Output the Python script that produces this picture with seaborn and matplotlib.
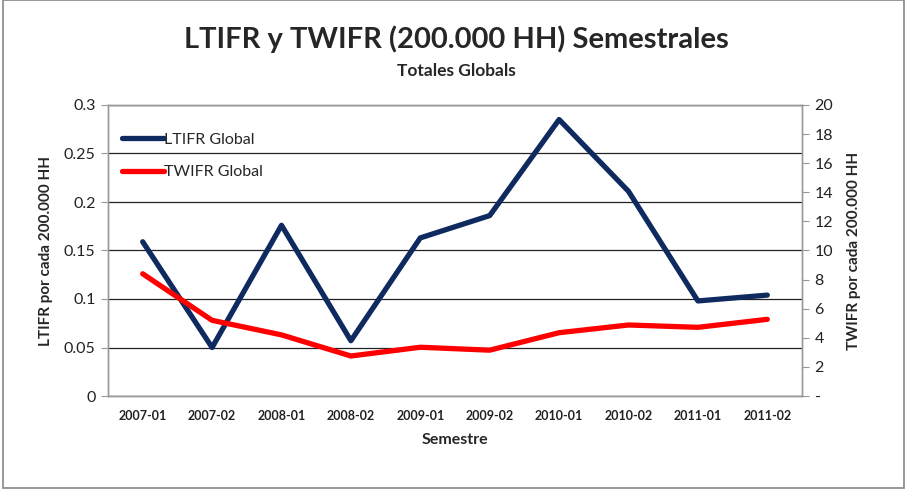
import numpy as np
import pandas as pd
import matplotlib
matplotlib.use('Agg')
import matplotlib.pyplot as plt
import seaborn as sns
from matplotlib.ticker import FixedLocator

semestres = ['2007-01', '2007-02', '2008-01', '2008-02', '2009-01',
             '2009-02', '2010-01', '2010-02', '2011-01', '2011-02']
ltifr = [0.159, 0.050, 0.176, 0.057, 0.163, 0.186, 0.285, 0.211, 0.098, 0.104]
twifr = [8.4, 5.2, 4.2, 2.75, 3.35, 3.15, 4.35, 4.88, 4.72, 5.27]

left_ticks = [0, 0.05, 0.1, 0.15, 0.2, 0.25, 0.3]
right_ticks = list(range(0, 21, 2))

navy = '#0E2A5E'
red = '#FF0000'

sns.set_style('white')
plt.rcParams['font.family'] = ['Lato', 'DejaVu Sans']

df = pd.DataFrame({'pos': np.arange(len(semestres)), 'semestre': semestres,
                   'LTIFR': ltifr, 'TWIFR': twifr})

fig = plt.figure(figsize=(9.07, 4.9), dpi=100)
ax = fig.add_axes([108 / 907, 1 - 396 / 490, 694 / 907, 291 / 490])
ax2 = ax.twinx()

sns.lineplot(data=df, x='pos', y='LTIFR', ax=ax, color=navy, linewidth=3.8,
             label='LTIFR Global', legend=False)
sns.lineplot(data=df, x='pos', y='TWIFR', ax=ax2, color=red, linewidth=3.8,
             label='TWIFR Global', legend=False)

ax.set_xlim(-0.5, len(semestres) - 0.5)
ax.set_ylim(0, 0.3)
ax2.set_ylim(0, 20)

ax.set_yticks(left_ticks)
ax.set_yticklabels(['0', '0.05', '0.1', '0.15', '0.2', '0.25', '0.3'], fontsize=11.5, color='#222222')
ax2.set_yticks(right_ticks)
ax2.set_yticklabels(['-' if t == 0 else str(t) for t in right_ticks], fontsize=11.5, color='#222222')

ax.set_xticks(np.arange(len(semestres)))
ax.set_xticklabels(semestres, fontsize=9, fontweight='bold', color='#222222')
ax.xaxis.set_minor_locator(FixedLocator(np.arange(-0.5, len(semestres), 1)))
ax.tick_params(axis='x', which='major', length=0, pad=10)
ax.tick_params(axis='x', which='minor', length=5, color='#999999', direction='out')
ax.tick_params(axis='y', length=5, color='#999999', direction='out', left=True, pad=4)
ax2.tick_params(axis='y', length=5, color='#999999', direction='out', right=True, pad=4)

ax.grid(axis='y', color='#222222', linewidth=0.9)
ax.grid(axis='x', visible=False)
ax2.grid(False)
ax.set_axisbelow(True)

for a in (ax, ax2):
    for s in a.spines.values():
        s.set_color('#999999')
        s.set_linewidth(1.0)

ax.set_xlabel('Semestre', fontsize=11.5, fontweight='bold', labelpad=8)
ax.set_ylabel('LTIFR por cada 200.000 HH', fontsize=11, fontweight='bold', labelpad=8)
ax2.set_ylabel('TWIFR por cada 200.000 HH', fontsize=11, fontweight='bold', labelpad=10)

h1, l1 = ax.get_legend_handles_labels()
h2, l2 = ax2.get_legend_handles_labels()
leg = ax.legend(h1 + h2, l1 + l2, loc='upper left', bbox_to_anchor=(0.0, 0.955),
                frameon=False, fontsize=11.5, handlelength=2.6, handletextpad=0.0,
                labelspacing=1.15, borderaxespad=0.5)
leg.set_zorder(5)

fig.text(0.503, 0.92, 'LTIFR y TWIFR (200.000 HH) Semestrales', ha='center', va='center',
         fontsize=21, fontweight='bold')
fig.text(0.503, 0.855, 'Totales Globals', ha='center', va='center',
         fontsize=12.5, fontweight='bold')

fig.patches.append(plt.Rectangle((0.003, 0.004), 0.994, 0.995, transform=fig.transFigure,
                                 fill=False, edgecolor='#888888', linewidth=1.2))

fig.savefig('out.png', dpi=100)
